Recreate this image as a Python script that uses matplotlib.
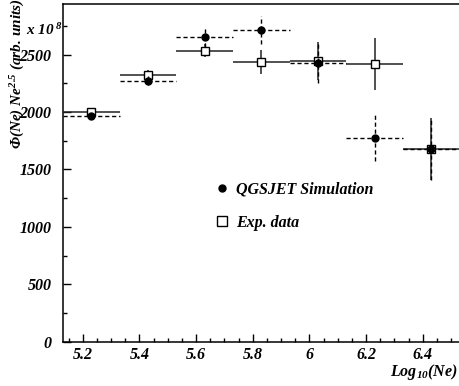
import matplotlib
matplotlib.use("Agg")
import matplotlib.pyplot as plt
from matplotlib.lines import Line2D
from matplotlib.ticker import MultipleLocator

# ############ Datos
BinCentros = [5.23, 5.43, 5.63, 5.83, 6.03, 6.23, 6.43]
MedioAncho = 0.1

ExpValores = [1998, 2320, 2532, 2436, 2442, 2416, 1678]
ExpErrores = [35, 45, 57, 105, 167, 228, 270]

SimValores = [1966, 2271, 2657, 2715, 2425, 1772, 1680]
SimErrores = [30, 38, 87, 122, 170, 200, 270]

XTicks = [5.2, 5.4, 5.6, 5.8, 6.0, 6.2, 6.4]
XTickLabels = ["5.2", "5.4", "5.6", "5.8", "6", "6.2", "6.4"]
YTicks = [0, 500, 1000, 1500, 2000, 2500]

# ############ Estilo
Fuente = "Liberation Serif"
plt.rcParams["font.family"] = [Fuente, "DejaVu Serif"]
plt.rcParams["font.weight"] = "bold"
plt.rcParams["font.style"] = "italic"
plt.rcParams["mathtext.fontset"] = "custom"
plt.rcParams["mathtext.rm"] = Fuente + ":bold:italic"
plt.rcParams["mathtext.it"] = Fuente + ":bold:italic"
plt.rcParams["mathtext.bf"] = Fuente + ":bold:italic"

fig = plt.figure(figsize=(4.59, 3.86), dpi=100)
ax = fig.add_axes([0.1366, 0.1148, 0.8634, 0.8748])

# Datos experimentales (cuadros abiertos, lineas solidas)
ax.errorbar(BinCentros, ExpValores, xerr=MedioAncho, yerr=ExpErrores,
            fmt="s", ms=5.5, mfc="white", mec="black", mew=1.0,
            ecolor="#222222", elinewidth=1.1, capsize=0, zorder=3)

# Simulacion QGSJET (puntos negros, lineas discontinuas)
sim = ax.errorbar(BinCentros, SimValores, xerr=MedioAncho, yerr=SimErrores,
                  fmt="o", ms=5, mfc="black", mec="black",
                  ecolor="black", elinewidth=1.0, capsize=0, zorder=4)
for lc in sim[2]:
    lc.set_linestyle((0, (3, 2)))

ax.set_xlim(5.129, 6.528)
ax.set_ylim(0, 2940)

ax.set_xticks(XTicks)
ax.set_xticklabels(XTickLabels)
ax.set_yticks(YTicks)
ax.xaxis.set_minor_locator(MultipleLocator(0.05))
ax.yaxis.set_minor_locator(MultipleLocator(250))
ax.tick_params(which="both", direction="in", labelsize=11.5, width=1.0)
ax.tick_params(which="major", length=6)
ax.tick_params(which="minor", length=3)
ax.tick_params(axis="x", pad=4)
ax.tick_params(axis="y", pad=8)
ax.spines["right"].set_visible(False)
for s in ["left", "bottom", "top"]:
    ax.spines[s].set_linewidth(1.1)

# Leyenda
Manejadores = [
    Line2D([], [], marker="o", ls="none", ms=5, mfc="black", mec="black"),
    Line2D([], [], marker="s", ls="none", ms=6.5, mfc="white", mec="black"),
]
ax.legend(Manejadores, ["QGSJET Simulation", "Exp. data"],
          loc="upper left", bbox_to_anchor=(0.466, 0.5285),
          bbox_transform=fig.transFigure, frameon=False,
          handlelength=1.0, handletextpad=0.4, labelspacing=1.05,
          borderpad=0, borderaxespad=0, fontsize=11.5)

# Etiquetas de los ejes
fig.text(0.039, 0.81, r"$\Phi$(Ne) Ne$^{2.5}$ (arb. units)", rotation=90,
         ha="center", va="center", fontsize=11)
fig.text(0.057, 0.922, r"x 10$^{\ 8}$", ha="left", va="center", fontsize=11)
fig.text(0.998, 0.036, r"Log$_{10}$(Ne)", ha="right", va="center", fontsize=11.5)

fig.savefig("out.png", dpi=100)
